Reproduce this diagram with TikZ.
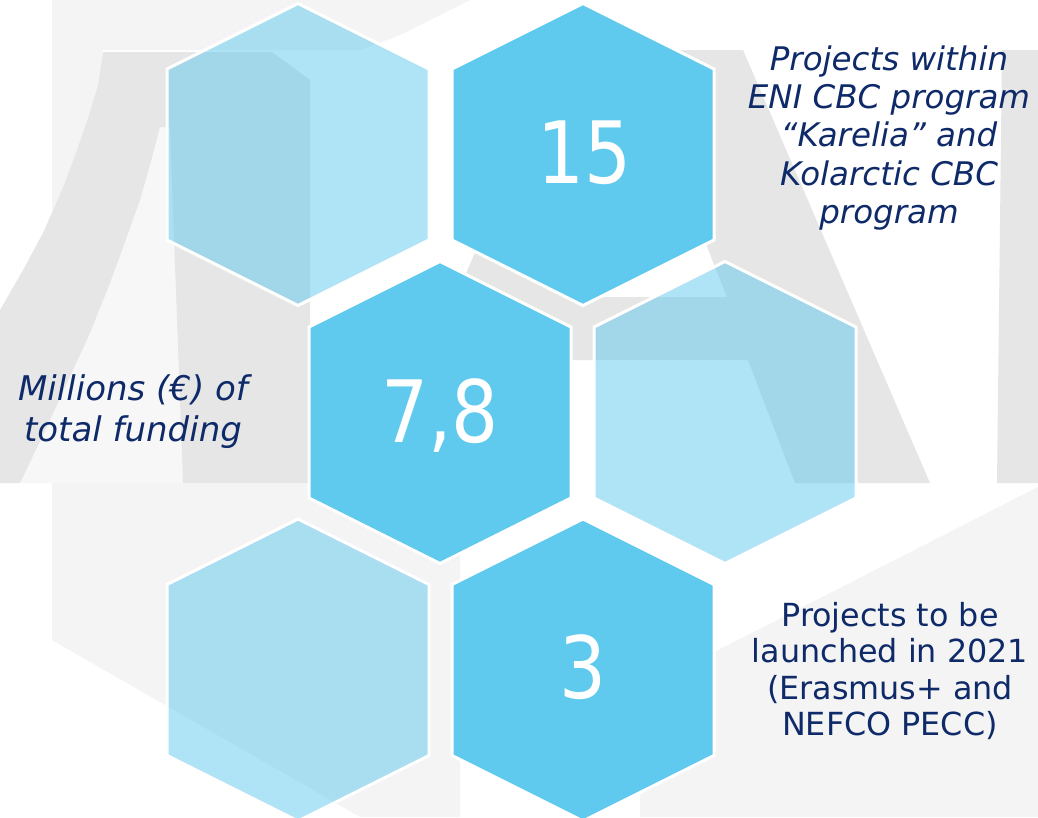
\documentclass[tikz,border=0pt]{standalone}
\usepackage{fontspec}
\setmainfont{DejaVu Sans}
\newfontfamily\numfont[FakeStretch=0.86]{DejaVu Sans}
\definecolor{hexblue}{HTML}{5FCAED}
\definecolor{navy}{HTML}{0F2A69}
\definecolor{wm}{HTML}{E6E6E6}
\definecolor{wmlight}{HTML}{F4F4F4}
\definecolor{wmpale}{HTML}{F7F7F7}
\begin{document}
\begin{tikzpicture}[x=1pt,y=-1pt,
  hexa/.pic={\path[pic actions] (0,-151)--(131,-85.5)--(131,85.5)--(0,151)--(-131,85.5)--(-131,-85.5)--cycle;},
  lighthex/.style={fill=hexblue, fill opacity=0.5, draw=white, line width=3pt},
  darkhex/.style={fill=hexblue, draw=white, line width=3pt},
  num/.style={text=white, inner sep=0pt, anchor=base, font=\numfont\fontsize{86}{86}\selectfont},
  lbl/.style={text=navy, inner sep=0pt, align=center}]
\useasboundingbox (0,0) rectangle (1038,817);
\fill[white] (0,0) rectangle (1038,817);
% watermark background
\fill[wmlight] (52,0) -- (470,0) -- (400,35) -- (360,50) -- (103,50) -- (98,85) -- (88,118) -- (77,150) -- (62,190) -- (52,212) -- cycle;
\fill[wmlight] (52,483) -- (460,483) -- (460,817) -- (360,817) -- (52,640) -- cycle;
\fill[wmlight] (1038,487) -- (1038,817) -- (640,817) -- (640,690) -- cycle;
\fill[wmpale] (160,127) -- (172,127) -- (183,483) -- (20,483) -- cycle;
\fill[wm] (0,483) -- (0,310) -- (22,272) -- (43,233) -- (62,190) -- (77,150) -- (88,118) -- (98,85) -- (103,52)
  -- (272,52) -- (310,80) -- (310,483) -- (183,483) -- (170,127) -- (160,127)
  -- (150,165) -- (140,200) -- (125,242) -- (110,283) -- (90,333) -- (67,383) -- (44,433) -- (20,483) -- cycle;
\fill[wm, even odd rule] (378,483) -- (560,50) -- (743,50) -- (930,483) -- (795,483) -- (748,360) -- (565,360) -- (513,483) -- cycle
  (591,297) -- (727,297) -- (661,131) -- cycle;
\fill[wm] (1002,50) -- (1038,50) -- (1038,483) -- (997,483) -- cycle;
% hexagon centres
\coordinate (h1) at (298,154.5);
\coordinate (h2) at (583,154.5);
\coordinate (h3) at (440,412.5);
\coordinate (h4) at (725,412.5);
\coordinate (h5) at (298,670);
\coordinate (h6) at (583,670);
\pic[lighthex] at (h1) {hexa};
\pic[darkhex] at (h2) {hexa};
\pic[darkhex] at (h3) {hexa};
\pic[lighthex] at (h4) {hexa};
\pic[lighthex] at (h5) {hexa};
\pic[darkhex] at (h6) {hexa};
% numbers
\node[num] (n15) at (585,183) {15};
\node[num] (n78) at (440,442) {7,8};
\node[num] (n3) at (583,698) {3};
% labels
\node[lbl, font=\itshape\fontsize{32.5}{38.25}\selectfont] (t15) at (889,138) {Projects within\\ENI CBC program\\“Karelia” and\\Kolarctic CBC\\program};
\node[lbl, font=\itshape\fontsize{34}{41}\selectfont] (t78) at (133,412) {Millions (€) of\\total funding};
\node[lbl, font=\fontsize{31.8}{36.3}\selectfont] (t3) at (890,671) {Projects to be\\launched in 2021\\(Erasmus+ and\\NEFCO PECC)};
\end{tikzpicture}
\end{document}
